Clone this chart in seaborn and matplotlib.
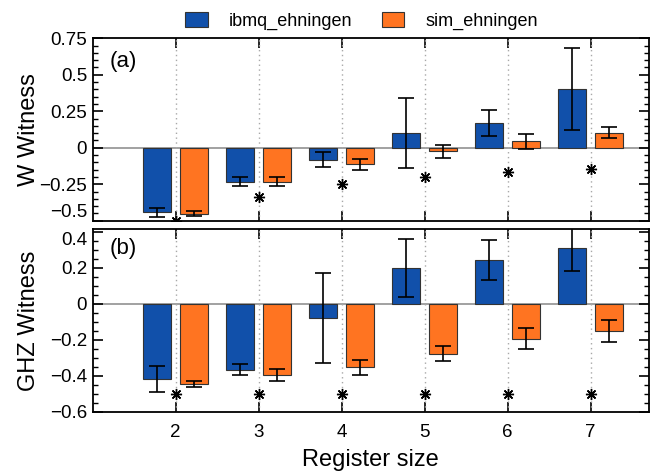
import matplotlib
matplotlib.use("Agg")
import matplotlib.pyplot as plt
from matplotlib.patches import Patch
from matplotlib.ticker import FixedLocator, FixedFormatter, MultipleLocator
import pandas as pd
import seaborn as sns

# Register sizes and backends
register_sizes = [2, 3, 4, 5, 6, 7]
devices = ["ibmq_ehningen", "sim_ehningen"]

# W-state witness: mean values and error bars
w_ibmq = [-0.442, -0.232, -0.082, 0.098, 0.169, 0.400]
w_ibmq_err = [0.030, 0.030, 0.050, 0.240, 0.090, 0.280]
w_sim = [-0.452, -0.233, -0.114, -0.023, 0.044, 0.103]
w_sim_err = [0.015, 0.029, 0.038, 0.045, 0.053, 0.037]
w_ideal = [-0.500, -0.335, -0.250, -0.203, -0.166, -0.146]

# GHZ-state witness: mean values and error bars
ghz_ibmq = [-0.418, -0.368, -0.079, 0.198, 0.241, 0.308]
ghz_ibmq_err = [0.070, 0.031, 0.248, 0.160, 0.110, 0.125]
ghz_sim = [-0.448, -0.398, -0.354, -0.278, -0.194, -0.152]
ghz_sim_err = [0.016, 0.034, 0.040, 0.043, 0.060, 0.063]
ghz_ideal = [-0.500, -0.500, -0.500, -0.500, -0.500, -0.500]

# Axis ticks
w_ticks = [-0.5, -0.25, 0, 0.25, 0.5, 0.75]
w_tick_labels = ["\u22120.5", "\u22120.25", "0", "0.25", "0.5", "0.75"]
ghz_ticks = [-0.6, -0.4, -0.2, 0, 0.2, 0.4]
ghz_tick_labels = ["\u22120.6", "\u22120.4", "\u22120.2", "0", "0.2", "0.4"]

colors = ["#1150aa", "#ff7421"]

sns.set_theme(style="ticks")
plt.rcParams["font.family"] = ["Liberation Sans", "DejaVu Sans"]
plt.rcParams["axes.edgecolor"] = "black"
plt.rcParams["xtick.color"] = "black"
plt.rcParams["ytick.color"] = "black"
plt.rcParams["text.color"] = "black"
plt.rcParams["axes.labelcolor"] = "black"

fig = plt.figure(figsize=(6.54, 4.75), dpi=100)
ax_w = fig.add_axes([0.1417, 0.5354, 0.8502, 0.384])
ax_g = fig.add_axes([0.1417, 0.1333, 0.8502, 0.384])


def draw_panel(ax, ibmq, ibmq_err, sim, sim_err, ideal, ticks, tick_labels, ylim, ylabel, tag, tag_y):
    df = pd.DataFrame({
        "size": register_sizes * 2,
        "device": [devices[0]] * len(register_sizes) + [devices[1]] * len(register_sizes),
        "value": ibmq + sim,
    })
    ax.axhline(0, color="#9a9a9a", lw=1.3, zorder=0.5)
    for i in range(len(register_sizes)):
        ax.axvline(i, color="#a8a8a8", ls=(0, (1, 2.5)), lw=1.0, zorder=0.6)
    sns.barplot(data=df, x="size", y="value", hue="device", hue_order=devices,
                palette=colors, saturation=1, width=0.9, gap=0.245, errorbar=None,
                edgecolor="#333333", linewidth=0.8, legend=False, ax=ax, zorder=2)
    for cont, err in zip(ax.containers, [ibmq_err, sim_err]):
        xs = [r.get_x() + r.get_width() / 2 for r in cont]
        ax.errorbar(xs, cont.datavalues, yerr=err, fmt="none", ecolor="black",
                    elinewidth=1.2, capsize=5.5, capthick=1.2, zorder=3)
    ax.plot(range(len(register_sizes)), ideal, ls="none", marker=(8, 2, 0),
            ms=8, mew=1.0, color="black", zorder=5)

    ax.set_xlim(-1, 5.7)
    ax.set_ylim(*ylim)
    ax.yaxis.set_major_locator(FixedLocator(ticks))
    ax.yaxis.set_major_formatter(FixedFormatter(tick_labels))
    ax.yaxis.set_minor_locator(MultipleLocator(0.05))
    ax.tick_params(which="both", direction="in", top=True, right=True)
    ax.tick_params(which="major", length=7.2, width=1.2, labelsize=13.5)
    ax.tick_params(axis="y", which="major", pad=4)
    ax.tick_params(axis="x", which="major", pad=9)
    ax.tick_params(which="minor", length=3.8, width=1.0)
    for sp in ax.spines.values():
        sp.set_linewidth(1.3)
        sp.set_visible(True)
    ax.set_ylabel(ylabel, fontsize=17)
    ax.yaxis.set_label_coords(-0.094, 0.5)
    ax.text(0.031, tag_y, tag, transform=ax.transAxes, fontsize=16,
            ha="left", va="center")


draw_panel(ax_w, w_ibmq, w_ibmq_err, w_sim, w_sim_err, w_ideal,
           w_ticks, w_tick_labels, (-0.5, 0.75), "W Witness", "(a)", 0.875)
draw_panel(ax_g, ghz_ibmq, ghz_ibmq_err, ghz_sim, ghz_sim_err, ghz_ideal,
           ghz_ticks, ghz_tick_labels, (-0.6, 0.413), "GHZ Witness", "(b)", 0.897)

ax_w.tick_params(axis="x", labelbottom=False)
ax_w.set_xlabel("")
ax_g.set_xlabel("Register size", fontsize=17)
ax_g.xaxis.set_label_coords(0.5, -0.205)

# keep the two labels at the panel junction apart
ax_w.get_yticklabels()[0].set_verticalalignment("bottom")
ax_g.get_yticklabels()[-1].set_verticalalignment("top")

handles = [Patch(facecolor=c, edgecolor="#333333", linewidth=0.8, label=d)
           for c, d in zip(colors, devices)]
fig.legend(handles=handles, loc="center", bbox_to_anchor=(0.553, 0.956), ncol=2,
           frameon=False, fontsize=13, handlelength=1.25, handleheight=0.95,
           handletextpad=1.2, columnspacing=1.6)

fig.savefig("out.png", dpi=100)
